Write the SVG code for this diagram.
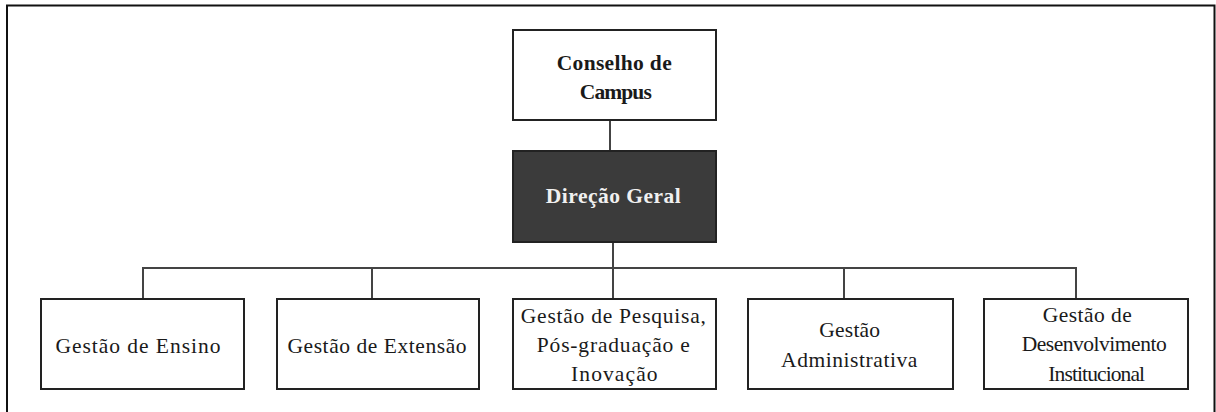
<svg xmlns="http://www.w3.org/2000/svg" width="1216" height="412" viewBox="0 0 1216 412">
<style>
.box{fill:#fff;stroke:#222;stroke-width:2}
.dark{fill:#3b3b3b;stroke:#222;stroke-width:2}
.t{font-family:"Liberation Serif","Times New Roman",serif;font-size:21.5px;fill:#1a1a1a;text-anchor:middle}
.b{font-weight:bold;font-size:21.5px}
.w{fill:#f0f0f0}
.ln{stroke:#444;stroke-width:2;fill:none}
</style>
<rect x="0" y="0" width="1216" height="412" fill="#fff"/>
<path d="M7,413 V5.5 H1214.5 V413" fill="none" stroke="#111" stroke-width="2"/>
<g id="connectors">
<line class="ln" x1="610" y1="120" x2="610" y2="151"/>
<line class="ln" x1="613" y1="242" x2="613" y2="299"/>
<line class="ln" x1="143" y1="268" x2="1076" y2="268"/>
<line class="ln" x1="143" y1="267" x2="143" y2="299"/>
<line class="ln" x1="372" y1="267" x2="372" y2="299"/>
<line class="ln" x1="844" y1="267" x2="844" y2="299"/>
<line class="ln" x1="1076" y1="267" x2="1076" y2="299"/>
</g>
<g id="conselho">
<rect class="box" x="513" y="30" width="203" height="90"/>
<text class="t b" x="614.2" y="69.5" textLength="115" lengthAdjust="spacing">Conselho de</text>
<text class="t b" x="615.8" y="98.5" textLength="72" lengthAdjust="spacing">Campus</text>
</g>
<g id="direcao">
<rect class="dark" x="513" y="151" width="203" height="91"/>
<text class="t b w" x="613.3" y="203" textLength="135" lengthAdjust="spacing">Direção Geral</text>
</g>
<g id="ensino">
<rect class="box" x="41" y="299" width="203" height="90"/>
<text class="t" x="137.9" y="352.5" textLength="165" lengthAdjust="spacing">Gestão de Ensino</text>
</g>
<g id="extensao">
<rect class="box" x="277" y="299" width="202" height="90"/>
<text class="t" x="377" y="352.5" textLength="179" lengthAdjust="spacing">Gestão de Extensão</text>
</g>
<g id="pesquisa">
<rect class="box" x="513" y="299" width="203" height="90"/>
<text class="t" x="613.3" y="322.7" textLength="185" lengthAdjust="spacing">Gestão de Pesquisa,</text>
<text class="t" x="613.3" y="351.7" textLength="153" lengthAdjust="spacing">Pós-graduação e</text>
<text class="t" x="614.3" y="380.5" textLength="86.5" lengthAdjust="spacing">Inovação</text>
</g>
<g id="administrativa">
<rect class="box" x="748" y="299" width="205" height="90"/>
<text class="t" x="849.7" y="337.3" textLength="60.7" lengthAdjust="spacing">Gestão</text>
<text class="t" x="849.2" y="366.7" textLength="136.3" lengthAdjust="spacing">Administrativa</text>
</g>
<g id="desenvolvimento">
<rect class="box" x="984" y="299" width="204" height="90"/>
<text class="t" x="1087.2" y="322.3" textLength="89" lengthAdjust="spacing">Gestão de</text>
<text class="t" x="1094.2" y="351" textLength="145" lengthAdjust="spacing">Desenvolvimento</text>
<text class="t" x="1096.7" y="380.7" textLength="96.7" lengthAdjust="spacing">Institucional</text>
</g>
</svg>
